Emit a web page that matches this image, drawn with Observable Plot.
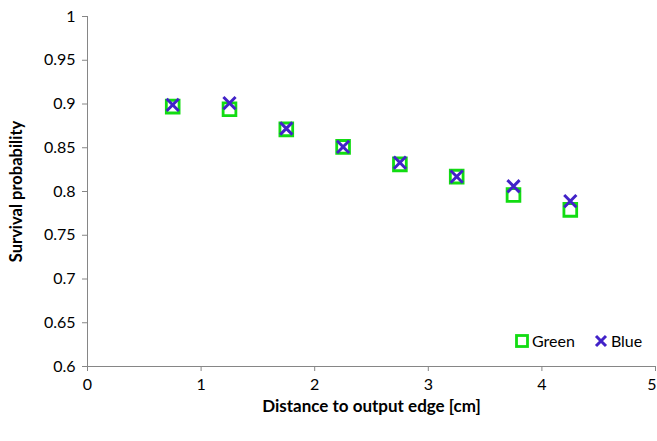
<!DOCTYPE html>
<html>
<head>
<meta charset="utf-8">
<script src="https://cdn.jsdelivr.net/npm/d3@7"></script>
<script src="https://cdn.jsdelivr.net/npm/@observablehq/plot@0.6"></script>
<style>
  body { margin: 0; background: #fff; }
  #wrap { position: relative; width: 657px; height: 441px; font-family: Lato, "Open Sans", sans-serif; }
  #legend { position: absolute; left: 515px; top: 331px; display: flex; align-items: center; font-size: 16px; color: #000; }
  #legend .item { display: flex; align-items: center; margin-right: 19px; }
  #legend svg { margin-right: 3px; }
</style>
</head>
<body>
<div id="wrap"></div>
<script>
const distances = [0.75, 1.25, 1.75, 2.25, 2.75, 3.25, 3.75, 4.25];
const greenValues = [0.897, 0.894, 0.871, 0.851, 0.831, 0.817, 0.796, 0.779];
const blueValues  = [0.899, 0.901, 0.872, 0.851, 0.833, 0.817, 0.806, 0.789];
const xTicks = [0, 1, 2, 3, 4, 5];
const yTicks = [0.6, 0.65, 0.7, 0.75, 0.8, 0.85, 0.9, 0.95, 1];
const seriesNames = ["Green", "Blue"];
const seriesColors = ["#12dc12", "#4222c8"];
const xLabel = "Distance to output edge [cm]";
const yLabel = "Survival probability";

const green = distances.map((d, i) => ({x: d, y: greenValues[i]}));
const blue = distances.map((d, i) => ({x: d, y: blueValues[i]}));

const axisGray = "#868686";
const chart = Plot.plot({
  width: 657,
  height: 441,
  marginLeft: 87,
  marginRight: 2,
  marginTop: 16,
  marginBottom: 75,
  style: {fontFamily: "Lato, 'Open Sans', sans-serif", fontSize: "16px", color: "#000", background: "#fff", overflow: "visible"},
  x: {domain: [0, 5]},
  y: {domain: [0.6, 1]},
  marks: [
    Plot.ruleY([0.6], {stroke: axisGray, strokeWidth: 1}),
    Plot.ruleX([0], {stroke: axisGray, strokeWidth: 1}),
    Plot.axisX({ticks: xTicks, tickSize: 5, tickPadding: 7, stroke: axisGray, tickFormat: d => String(d), fontSize: 16,
      label: xLabel, labelArrow: "none", labelAnchor: "center", labelOffset: 45}),
    Plot.axisY({ticks: yTicks, tickSize: 5, tickPadding: 7, stroke: axisGray, tickFormat: d => String(+d.toFixed(2)), fontSize: 16,
      label: yLabel, labelArrow: "none", labelAnchor: "center", labelOffset: 77}),
    Plot.dot(green, {x: "x", y: "y", symbol: "square", r: 7.2, stroke: seriesColors[0], strokeWidth: 2.8, fill: "none"}),
    Plot.dot(blue, {x: "x", y: "y", symbol: "times", r: 5.6, stroke: seriesColors[1], strokeWidth: 3})
  ]
});
let lastXTick = null;
chart.querySelectorAll("text").forEach(t => {
  const s = t.textContent;
  if (s.startsWith(xLabel) || s.startsWith(yLabel)) {
    const isX = s.startsWith(xLabel);
    t.textContent = isX ? xLabel : yLabel;
    t.setAttribute("font-weight", "bold");
    t.setAttribute("font-size", isX ? "17" : "16.5");
  } else {
    t.setAttribute("font-size", "16");
    if (s === String(xTicks[xTicks.length - 1])) lastXTick = t;
  }
});
// keep the last x tick label inside the window
if (lastXTick) {
  lastXTick.setAttribute("text-anchor", "end");
  lastXTick.setAttribute("dx", "1");
}
document.getElementById("wrap").appendChild(chart);

const legend = document.createElement("div");
legend.id = "legend";
const symbols = [
  '<svg width="14" height="14"><rect x="1.5" y="1.5" width="11" height="11" fill="none" stroke="' + seriesColors[0] + '" stroke-width="2.8"/></svg>',
  '<svg width="14" height="14"><path d="M2,2L12,12M12,2L2,12" stroke="' + seriesColors[1] + '" stroke-width="3"/></svg>'
];
seriesNames.forEach((name, i) => {
  const item = document.createElement("div");
  item.className = "item";
  item.innerHTML = symbols[i] + "<span>" + name + "</span>";
  legend.appendChild(item);
});
document.getElementById("wrap").appendChild(legend);
</script>
</body>
</html>
